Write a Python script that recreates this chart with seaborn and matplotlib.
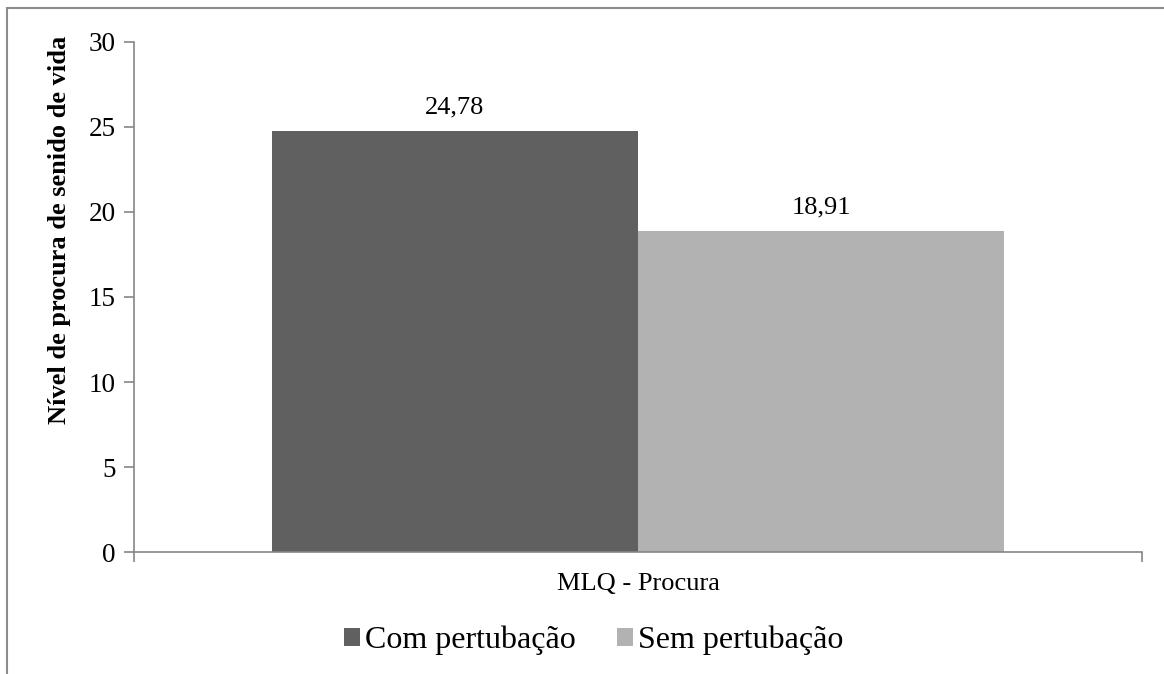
import numpy as np
import pandas as pd
import matplotlib
matplotlib.use("Agg")
import matplotlib.pyplot as plt
import seaborn as sns
from matplotlib.patches import Rectangle

# 数据
categorias = ["MLQ - Procura"]
grupos = ["Com pertubação", "Sem pertubação"]
valores = [24.78, 18.91]
cores = ["#606060", "#b2b2b2"]

df = pd.DataFrame({
    "categoria": categorias * len(grupos),
    "grupo": grupos,
    "valor": valores,
})

sns.set_style("white")
plt.rcParams["font.family"] = ["Liberation Serif", "DejaVu Serif"]
plt.rcParams["text.color"] = "black"
plt.rcParams["axes.labelcolor"] = "black"
plt.rcParams["xtick.labelcolor"] = "black"
plt.rcParams["ytick.labelcolor"] = "black"

fig = plt.figure(figsize=(11.64, 6.74), dpi=100)
ax = fig.add_axes([0.1151, 0.181, 0.866, 0.7567])

sns.barplot(data=df, x="categoria", y="valor", hue="grupo", palette=cores,
            width=0.727, saturation=1, linewidth=0, ax=ax, legend=True)

# 数值标签
for cont in ax.containers:
    ax.bar_label(cont, labels=[f"{v:.2f}".replace(".", ",") for v in cont.datavalues],
                 padding=9, fontsize=19)

ax.set_xlim(-0.5, 0.5)
ax.set_ylim(0, 30)
ax.set_yticks(range(0, 31, 5))
ax.set_xlabel("")
ax.set_ylabel("Nível de procura de senido de vida", fontsize=19, fontweight="bold")
ax.yaxis.set_label_coords(-0.062, 0.631)

eixo = "#868686"
for lado in ["top", "right"]:
    ax.spines[lado].set_visible(False)
for lado in ["left", "bottom"]:
    ax.spines[lado].set_color(eixo)
    ax.spines[lado].set_linewidth(1.2)

ax.tick_params(axis="y", direction="out", length=7, color=eixo, width=1.2,
               labelsize=19.5, pad=6, left=True)
ax.tick_params(axis="x", which="major", length=0, labelsize=19, pad=15)
ax.set_xticks([-0.5, 0.5], minor=True)
ax.tick_params(axis="x", which="minor", direction="out", length=7, color=eixo,
               width=1.2, bottom=True)

# 图例
handles, labels = ax.get_legend_handles_labels()
ax.legend_.remove()
fig.legend(handles, labels, loc="center", bbox_to_anchor=(0.51, 0.05), ncol=2,
           frameon=False, fontsize=23, handlelength=0.5, handleheight=0.5,
           handletextpad=0.16, columnspacing=1.3)

# 外框
fig.patches.append(Rectangle((7 / 1164, -0.1), 1.2, 1.1 - 8 / 674,
                             transform=fig.transFigure, fill=False,
                             edgecolor="#8c8c8c", linewidth=1.5))

fig.savefig("out.png", dpi=100)
